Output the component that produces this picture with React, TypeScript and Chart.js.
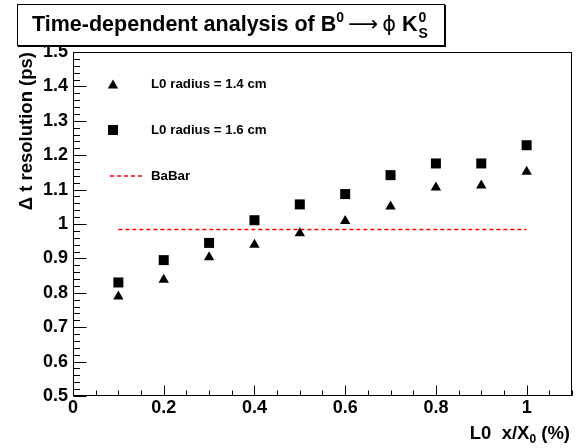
import React, { useEffect, useRef } from 'react';
import { Chart, registerables } from 'chart.js';

Chart.register(...registerables);

// ---- data ----
const xValues = [0.1, 0.2, 0.3, 0.4, 0.5, 0.6, 0.7, 0.8, 0.9, 1.0];
const radius14 = [0.789, 0.838, 0.903, 0.94, 0.973, 1.009, 1.051, 1.106, 1.112, 1.152];
const radius16 = [0.83, 0.895, 0.945, 1.011, 1.057, 1.087, 1.142, 1.176, 1.176, 1.229];
const babarX = [0.1, 1.0];
const babarY = [0.984, 0.984];
const seriesLabels = ['L0 radius = 1.4 cm', 'L0 radius = 1.6 cm', 'BaBar'];

const xTicks = [0, 0.2, 0.4, 0.6, 0.8, 1];
const xTickLabels = ['0', '0.2', '0.4', '0.6', '0.8', '1'];
const yTicks = [0.5, 0.6, 0.7, 0.8, 0.9, 1.0, 1.1, 1.2, 1.3, 1.4, 1.5];
const yTickLabels = ['0.5', '0.6', '0.7', '0.8', '0.9', '1', '1.1', '1.2', '1.3', '1.4', '1.5'];
const xMin = 0;
const xMax = 1.1;
const yMin = 0.5;
const yMax = 1.5;
const xMinorStep = 0.05;
const yMinorStep = 0.02;

const FONT = '"Liberation Sans", Arial, Helvetica, sans-serif';

function drawTriangle(ctx: CanvasRenderingContext2D, x: number, y: number, r: number) {
  ctx.beginPath();
  ctx.moveTo(x, y - r);
  ctx.lineTo(x + r * Math.sin((2 * Math.PI) / 3), y - r * Math.cos((2 * Math.PI) / 3));
  ctx.lineTo(x + r * Math.sin((4 * Math.PI) / 3), y - r * Math.cos((4 * Math.PI) / 3));
  ctx.closePath();
  ctx.fill();
}

const decorPlugin = {
  id: 'decor',
  afterDraw(chart: any) {
    const ctx: CanvasRenderingContext2D = chart.ctx;
    const xs = chart.scales.x;
    const ys = chart.scales.y;
    const a = chart.chartArea;
    ctx.save();
    // frame
    ctx.strokeStyle = '#000';
    ctx.lineWidth = 1;
    ctx.strokeRect(Math.round(a.left) + 0.5, Math.round(a.top) + 0.5, Math.round(a.right - a.left) - 1, Math.round(a.bottom - a.top) - 1);

    // y ticks (inside)
    const L = Math.round(a.left) + 0.5;
    ctx.beginPath();
    for (let v = yMin; v <= yMax + 1e-9; v += yMinorStep) {
      const py = Math.round(ys.getPixelForValue(v)) + 0.5;
      const isMajor = yTicks.some((t) => Math.abs(t - v) < 1e-6);
      ctx.moveTo(L, py);
      ctx.lineTo(L + (isMajor ? 13 : 6.5), py);
    }
    // x ticks (inside)
    const B = Math.round(a.bottom) - 0.5;
    for (let v = xMin; v <= xMax + 1e-9; v += xMinorStep) {
      const px = Math.round(xs.getPixelForValue(v)) + 0.5;
      const isMajor = xTicks.some((t) => Math.abs(t - v) < 1e-6);
      ctx.moveTo(px, B);
      ctx.lineTo(px, B - (isMajor ? 10 : 5));
    }
    ctx.stroke();

    // legend
    ctx.fillStyle = '#000';
    const lx = 113;
    const rows = [84, 130, 176];
    drawTriangle(ctx, lx, rows[0] + 1.5, 6);
    ctx.fillRect(lx - 5, rows[1] - 5, 10, 10);
    ctx.save();
    ctx.strokeStyle = '#ff0000';
    ctx.lineWidth = 1.5;
    ctx.setLineDash([4, 3]);
    ctx.beginPath();
    ctx.moveTo(110, rows[2]);
    ctx.lineTo(142, rows[2]);
    ctx.stroke();
    ctx.restore();
    ctx.font = `bold 13.3px ${FONT}`;
    ctx.textAlign = 'left';
    ctx.textBaseline = 'middle';
    seriesLabels.forEach((s, i) => ctx.fillText(s, 151, rows[i] + 0.5));

    // y-axis title
    ctx.save();
    ctx.translate(32, a.top);
    ctx.rotate(-Math.PI / 2);
    ctx.font = `bold 18.5px ${FONT}`;
    ctx.textAlign = 'right';
    ctx.textBaseline = 'alphabetic';
    ctx.fillText('\u0394 t resolution (ps)', 0, 0);
    ctx.restore();

    // x-axis title: "L0  x/X_0 (%)"
    {
      const base = 439;
      const big = `bold 18.5px ${FONT}`;
      const small = `bold 12px ${FONT}`;
      ctx.textBaseline = 'alphabetic';
      ctx.textAlign = 'left';
      ctx.font = big;
      const w1 = ctx.measureText('L0  x/X').width;
      const w3 = ctx.measureText(' (%)').width;
      ctx.font = small;
      const w2 = ctx.measureText('0').width;
      let x = 570 - (w1 + w2 + w3);
      ctx.font = big;
      ctx.fillText('L0  x/X', x, base);
      x += w1;
      ctx.font = small;
      ctx.fillText('0', x, base + 4);
      x += w2;
      ctx.font = big;
      ctx.fillText(' (%)', x, base);
    }

    // title box
    ctx.fillStyle = '#fff';
    ctx.fillRect(17, 4, 428, 42);
    ctx.strokeStyle = '#000';
    ctx.lineWidth = 1;
    ctx.strokeRect(17.5, 4.5, 427, 41);
    ctx.beginPath();
    ctx.moveTo(18, 46.5);
    ctx.lineTo(446, 46.5);
    ctx.moveTo(445.5, 5);
    ctx.lineTo(445.5, 47);
    ctx.stroke();
    {
      ctx.fillStyle = '#000';
      ctx.textAlign = 'left';
      ctx.textBaseline = 'alphabetic';
      const base = 31;
      const bigB = `bold 21.5px ${FONT}`;
      const bigN = `21px "DejaVu Sans", ${FONT}`;
      const sm = `bold 14px ${FONT}`;
      let x = 32;
      const seg = (t: string, f: string, dy: number) => {
        ctx.font = f;
        ctx.fillText(t, x, base + dy);
        x += ctx.measureText(t).width;
      };
      seg('Time-dependent analysis of B', bigB, 0);
      seg('0', sm, -9);
      x += 4;
      seg('\u27f6', bigN, 0);
      x += 4;
      seg('\u03d5', bigN, 0);
      seg(' K', bigB, 0);
      ctx.font = sm;
      ctx.fillText('0', x + 1, base - 9);
      ctx.fillText('S', x + 1, base + 7);
    }
    ctx.restore();
  },
};

export default function App() {
  const ref = useRef<HTMLCanvasElement | null>(null);
  useEffect(() => {
    document.body.style.margin = '0';
    const canvas = ref.current!;
    const chart = new Chart(canvas, {
      type: 'scatter',
      data: {
        datasets: [
          {
            label: seriesLabels[0],
            data: xValues.map((x, i) => ({ x, y: radius14[i] })),
            pointStyle: 'triangle',
            pointRadius: 6,
            backgroundColor: '#000',
            borderColor: '#000',
            borderWidth: 0,
          },
          {
            label: seriesLabels[1],
            data: xValues.map((x, i) => ({ x, y: radius16[i] })),
            pointStyle: 'rect',
            pointRadius: 7.07,
            backgroundColor: '#000',
            borderColor: '#000',
            borderWidth: 0,
          },
          {
            label: seriesLabels[2],
            type: 'line',
            data: babarX.map((x, i) => ({ x, y: babarY[i] })),
            showLine: true,
            pointRadius: 0,
            borderColor: '#ff0000',
            borderWidth: 1.5,
            borderDash: [4, 3],
            fill: false,
          } as any,
        ],
      },
      options: {
        responsive: false,
        animation: false,
        devicePixelRatio: 1,
        layout: { padding: { top: 52, right: 9, left: 0, bottom: 0 } },
        plugins: { legend: { display: false }, tooltip: { enabled: false }, title: { display: false } },
        scales: {
          x: {
            type: 'linear',
            min: xMin,
            max: xMax,
            grid: { display: false, drawTicks: false },
            border: { display: false },
            afterBuildTicks: (s: any) => {
              s.ticks = xTicks.map((v) => ({ value: v }));
            },
            afterFit: (s: any) => {
              s.height = 52;
            },
            ticks: {
              padding: 1,
              color: '#000',
              font: { family: FONT, size: 18, weight: 'bold' },
              maxRotation: 0,
              autoSkip: false,
              callback: (v: any) => {
                const i = xTicks.findIndex((t) => Math.abs(t - Number(v)) < 1e-6);
                return i >= 0 ? xTickLabels[i] : '';
              },
            },
          },
          y: {
            type: 'linear',
            min: yMin,
            max: yMax,
            grid: { display: false, drawTicks: false },
            border: { display: false },
            afterBuildTicks: (s: any) => {
              s.ticks = yTicks.map((v) => ({ value: v }));
            },
            afterFit: (s: any) => {
              s.width = 73;
            },
            ticks: {
              padding: 5,
              color: '#000',
              font: { family: FONT, size: 18, weight: 'bold' },
              autoSkip: false,
              callback: (v: any) => {
                const i = yTicks.findIndex((t) => Math.abs(t - Number(v)) < 1e-6);
                return i >= 0 ? yTickLabels[i] : '';
              },
            },
          },
        },
      },
      plugins: [decorPlugin],
    });
    return () => chart.destroy();
  }, []);
  return (
    <div style={{ width: 581, height: 448, overflow: 'hidden' }}>
      <canvas ref={ref} width={581} height={448} style={{ display: 'block' }} />
    </div>
  );
}
